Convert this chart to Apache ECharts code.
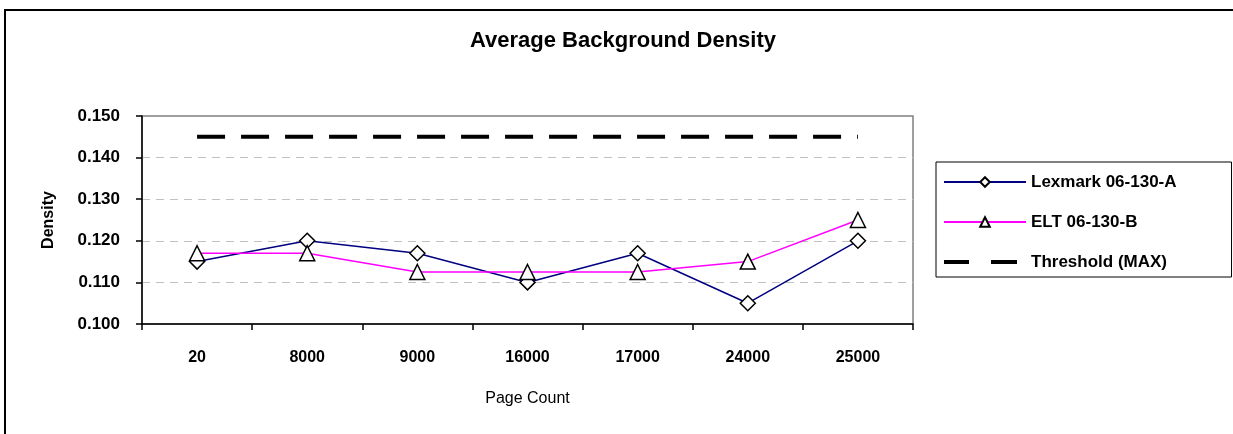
<!DOCTYPE html>
<html>
<head>
<meta charset="utf-8">
<script src="https://cdn.jsdelivr.net/npm/echarts@6/dist/echarts.min.js"></script>
<style>
  html, body { margin: 0; padding: 0; background: #fff; }
  #chart { width: 1233px; height: 434px; }
</style>
</head>
<body>
<div id="chart"></div>
<script>
// page counts on the x axis
const pageCounts = ['20', '8000', '9000', '16000', '17000', '24000', '25000'];
// density readings per cartridge
const lexmark = [0.115, 0.120, 0.117, 0.110, 0.117, 0.105, 0.120];
const elt = [0.117, 0.117, 0.1125, 0.1125, 0.1125, 0.115, 0.125];
const threshold = [0.145, 0.145, 0.145, 0.145, 0.145, 0.145, 0.145];

const FONT = '"Liberation Sans", Arial, sans-serif';

// two thick dashes for the threshold legend entry (tiny corner dots fix the box to 82x12)
const dashIcon = 'path://M0,0h0.1v0.1h-0.1z M0,4h25v4h-25z M47,4h26v4h-26z M81.9,11.9h0.1v0.1h-0.1z';

const chart = echarts.init(document.getElementById('chart'), null, { renderer: 'canvas' });

chart.setOption({
  backgroundColor: '#fff',
  animation: false,
  title: {
    text: 'Average Background Density',
    left: 623,
    textAlign: 'center',
    top: 30,
    padding: 0,
    textStyle: { fontFamily: FONT, fontSize: 22, fontWeight: 'bold', color: '#000' }
  },
  legend: {
    orient: 'vertical',
    left: 936,
    top: 162,
    padding: [10, 55, 5, 7],
    itemWidth: 82,
    itemHeight: 12,
    itemGap: 20,
    borderColor: '#000',
    borderWidth: 1,
    textStyle: { fontFamily: FONT, fontSize: 17, fontWeight: 'bold', color: '#000', lineHeight: 20 },
    data: [
      'Lexmark 06-130-A',
      'ELT 06-130-B',
      { name: 'Threshold (MAX)', icon: dashIcon, itemStyle: { color: '#000' } }
    ]
  },
  grid: {
    left: 142,
    right: 320,
    top: 116,
    bottom: 110,
    show: true,
    borderColor: '#808080',
    borderWidth: 1.5
  },
  xAxis: {
    type: 'category',
    data: pageCounts,
    boundaryGap: true,
    name: 'Page Count',
    nameLocation: 'middle',
    nameGap: 67,
    nameTextStyle: { fontFamily: FONT, fontSize: 16, color: '#000' },
    axisLine: { lineStyle: { color: '#000', width: 1.5 } },
    axisTick: { show: true, length: 6, lineStyle: { color: '#000', width: 1.5 } },
    axisLabel: { margin: 26, fontFamily: FONT, fontSize: 16, fontWeight: 'bold', color: '#000' }
  },
  yAxis: {
    type: 'value',
    min: 0.1,
    max: 0.15,
    interval: 0.01,
    name: 'Density',
    nameLocation: 'middle',
    nameGap: 85,
    nameTextStyle: { fontFamily: FONT, fontSize: 16, fontWeight: 'bold', color: '#000' },
    axisLine: { show: true, lineStyle: { color: '#000', width: 1.5 } },
    axisTick: { show: true, length: 6, lineStyle: { color: '#000', width: 1.5 } },
    axisLabel: {
      margin: 22,
      fontFamily: FONT, fontSize: 17, fontWeight: 'bold', color: '#000',
      formatter: v => v.toFixed(3)
    },
    splitLine: {
      show: true,
      showMinLine: false,
      showMaxLine: false,
      lineStyle: { color: '#c0c0c0', type: [8, 6], width: 1 }
    }
  },
  graphic: [{
    type: 'rect',
    shape: { x: 5, y: 10, width: 1300, height: 500 },
    style: { fill: 'none', stroke: '#000', lineWidth: 2 },
    silent: true,
    z: 100
  }],
  series: [
    {
      name: 'Threshold (MAX)',
      type: 'line',
      data: threshold,
      symbol: 'none',
      lineStyle: { color: '#000', width: 4, type: [28, 16] },
      itemStyle: { color: '#000' },
      z: 1
    },
    {
      name: 'Lexmark 06-130-A',
      type: 'line',
      data: lexmark,
      symbol: 'diamond',
      symbolSize: [15, 15],
      showAllSymbol: true,
      lineStyle: { color: '#000080', width: 1.5 },
      itemStyle: { color: '#fff', borderColor: '#000', borderWidth: 1.5 },
      z: 2
    },
    {
      name: 'ELT 06-130-B',
      type: 'line',
      data: elt,
      symbol: 'triangle',
      symbolSize: [15, 15],
      showAllSymbol: true,
      lineStyle: { color: '#ff00ff', width: 1.5 },
      itemStyle: { color: '#fff', borderColor: '#000', borderWidth: 1.5 },
      z: 3
    }
  ]
});
</script>
</body>
</html>
